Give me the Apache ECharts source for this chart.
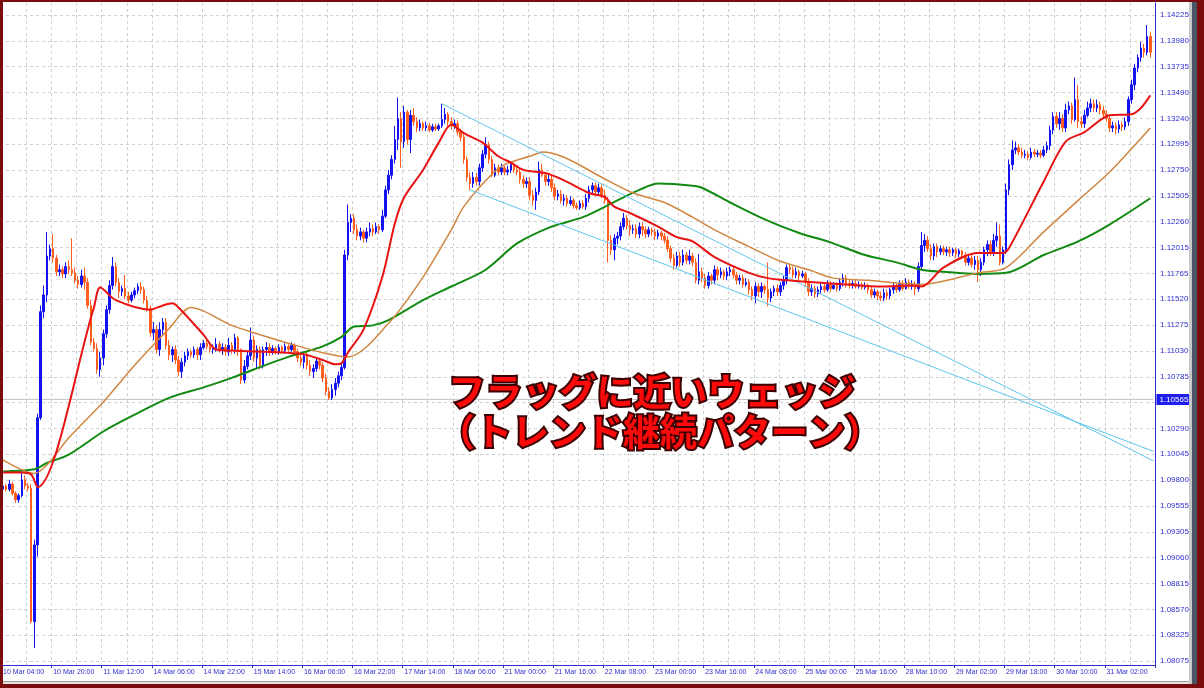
<!DOCTYPE html>
<html><head><meta charset="utf-8">
<script src="https://cdn.jsdelivr.net/npm/echarts@6/dist/echarts.min.js"></script>
<style>html,body{margin:0;padding:0;background:#fff}#c{width:1204px;height:688px}</style>
</head><body><div id="c"></div>
<script>
const xTickLabels = ['10 Mar 04:00','10 Mar 20:00','11 Mar 12:00','14 Mar 06:00','14 Mar 22:00','15 Mar 14:00','16 Mar 06:00','16 Mar 22:00','17 Mar 14:00','18 Mar 06:00','21 Mar 00:00','21 Mar 16:00','22 Mar 08:00','23 Mar 00:00','23 Mar 16:00','24 Mar 08:00','25 Mar 00:00','25 Mar 16:00','28 Mar 10:00','29 Mar 02:00','29 Mar 18:00','30 Mar 10:00','31 Mar 02:00'];
const yTickLabels = ['1.08075','1.08325','1.08570','1.08815','1.09060','1.09305','1.09555','1.09800','1.10045','1.10290','1.10540','1.10785','1.11030','1.11275','1.11520','1.11765','1.12015','1.12260','1.12505','1.12750','1.12995','1.13240','1.13490','1.13735','1.13980','1.14225'];
const BAR_SLOTS = 368;
const hLinePrice = 1.10565;
const hLineText = '1.10565';

const open = [
1.0971,1.0974,1.0971,1.0976,1.0967,1.0961,1.0965,1.0980,1.0974,1.0972,
1.0845,1.0918,1.1039,1.1140,1.1156,1.1193,1.1200,1.1191,1.1178,1.1180,
1.1176,1.1183,1.1180,1.1177,1.1170,1.1166,1.1174,1.1168,1.1146,1.1111,
1.1105,1.1085,1.1096,1.1119,1.1142,1.1165,1.1183,1.1168,1.1159,1.1162,
1.1155,1.1151,1.1156,1.1160,1.1164,1.1161,1.1151,1.1143,1.1120,1.1123,
1.1104,1.1123,1.1130,1.1108,1.1099,1.1104,1.1094,1.1083,1.1092,1.1098,
1.1102,1.1099,1.1104,1.1099,1.1106,1.1110,1.1107,1.1104,1.1105,1.1109,
1.1104,1.1106,1.1102,1.1108,1.1104,1.1115,1.1104,1.1075,1.1088,1.1098,
1.1113,1.1096,1.1104,1.1089,1.1104,1.1106,1.1102,1.1105,1.1102,1.1106,
1.1103,1.1107,1.1104,1.1108,1.1102,1.1096,1.1092,1.1098,1.1089,1.1083,
1.1086,1.1093,1.1089,1.1077,1.1064,1.1058,1.1066,1.1072,1.1079,1.1087,
1.1194,1.1225,1.1229,1.1218,1.1212,1.1216,1.1210,1.1216,1.1219,1.1216,
1.1221,1.1218,1.1231,1.1256,1.1270,1.1285,1.1304,1.1324,1.1302,1.1330,
1.1304,1.1327,1.1321,1.1315,1.1319,1.1315,1.1317,1.1313,1.1316,1.1314,
1.1317,1.1323,1.1328,1.1321,1.1317,1.1319,1.1311,1.1306,1.1285,1.1268,
1.1262,1.1268,1.1264,1.1277,1.1290,1.1299,1.1285,1.1270,1.1277,1.1273,
1.1277,1.1273,1.1275,1.1280,1.1275,1.1273,1.1266,1.1262,1.1264,1.1251,
1.1246,1.1254,1.1275,1.1270,1.1264,1.1266,1.1258,1.1250,1.1252,1.1246,
1.1248,1.1243,1.1246,1.1241,1.1239,1.1243,1.1240,1.1248,1.1256,1.1260,
1.1254,1.1258,1.1251,1.1246,1.1208,1.1199,1.1210,1.1212,1.1221,1.1229,
1.1222,1.1218,1.1219,1.1214,1.1221,1.1218,1.1214,1.1218,1.1216,1.1212,
1.1215,1.1212,1.1208,1.1200,1.1191,1.1184,1.1193,1.1187,1.1194,1.1189,
1.1193,1.1187,1.1170,1.1178,1.1172,1.1165,1.1174,1.1170,1.1180,1.1175,
1.1178,1.1174,1.1178,1.1180,1.1175,1.1170,1.1172,1.1166,1.1168,1.1161,
1.1155,1.1164,1.1159,1.1164,1.1161,1.1153,1.1159,1.1162,1.1159,1.1165,
1.1170,1.1182,1.1180,1.1175,1.1178,1.1174,1.1176,1.1168,1.1159,1.1162,
1.1157,1.1161,1.1164,1.1161,1.1166,1.1162,1.1165,1.1162,1.1168,1.1172,
1.1167,1.1165,1.1167,1.1164,1.1166,1.1163,1.1165,1.1161,1.1156,1.1159,
1.1155,1.1153,1.1158,1.1155,1.1161,1.1164,1.1161,1.1166,1.1162,1.1168,
1.1164,1.1166,1.1162,1.1183,1.1203,1.1208,1.1200,1.1193,1.1202,1.1197,
1.1200,1.1197,1.1199,1.1196,1.1199,1.1195,1.1198,1.1194,1.1187,1.1191,
1.1185,1.1189,1.1180,1.1187,1.1199,1.1204,1.1197,1.1208,1.1212,1.1187,
1.1199,1.1256,1.1280,1.1294,1.1296,1.1292,1.1289,1.1290,1.1287,1.1292,
1.1290,1.1291,1.1289,1.1294,1.1298,1.1313,1.1326,1.1319,1.1324,1.1315,
1.1332,1.1336,1.1323,1.1342,1.1321,1.1319,1.1327,1.1334,1.1338,1.1334,
1.1337,1.1332,1.1328,1.1324,1.1315,1.1317,1.1314,1.1318,1.1316,1.1321,
1.1342,1.1356,1.1372,1.1382,1.1391,1.1387,1.1402];
const close = [
1.0974,1.0971,1.0976,1.0967,1.0961,1.0965,1.0980,1.0974,1.0972,1.0845,
1.0918,1.1039,1.1140,1.1156,1.1193,1.1200,1.1191,1.1178,1.1180,1.1176,
1.1183,1.1180,1.1177,1.1170,1.1166,1.1174,1.1168,1.1146,1.1111,1.1105,
1.1085,1.1096,1.1119,1.1142,1.1165,1.1183,1.1168,1.1159,1.1162,1.1155,
1.1151,1.1156,1.1160,1.1164,1.1161,1.1151,1.1143,1.1120,1.1123,1.1104,
1.1123,1.1130,1.1108,1.1099,1.1104,1.1094,1.1083,1.1092,1.1098,1.1102,
1.1099,1.1104,1.1099,1.1106,1.1110,1.1107,1.1104,1.1105,1.1109,1.1104,
1.1106,1.1102,1.1108,1.1104,1.1115,1.1104,1.1075,1.1088,1.1098,1.1113,
1.1096,1.1104,1.1089,1.1104,1.1106,1.1102,1.1105,1.1102,1.1106,1.1103,
1.1107,1.1104,1.1108,1.1102,1.1096,1.1092,1.1098,1.1089,1.1083,1.1086,
1.1093,1.1089,1.1077,1.1064,1.1058,1.1066,1.1072,1.1079,1.1087,1.1194,
1.1225,1.1229,1.1218,1.1212,1.1216,1.1210,1.1216,1.1219,1.1216,1.1221,
1.1218,1.1231,1.1256,1.1270,1.1285,1.1304,1.1324,1.1302,1.1330,1.1304,
1.1327,1.1321,1.1315,1.1319,1.1315,1.1317,1.1313,1.1316,1.1314,1.1317,
1.1323,1.1328,1.1321,1.1317,1.1319,1.1311,1.1306,1.1285,1.1268,1.1262,
1.1268,1.1264,1.1277,1.1290,1.1299,1.1285,1.1270,1.1277,1.1273,1.1277,
1.1273,1.1275,1.1280,1.1275,1.1273,1.1266,1.1262,1.1264,1.1251,1.1246,
1.1254,1.1275,1.1270,1.1264,1.1266,1.1258,1.1250,1.1252,1.1246,1.1248,
1.1243,1.1246,1.1241,1.1239,1.1243,1.1240,1.1248,1.1256,1.1260,1.1254,
1.1258,1.1251,1.1246,1.1208,1.1199,1.1210,1.1212,1.1221,1.1229,1.1222,
1.1218,1.1219,1.1214,1.1221,1.1218,1.1214,1.1218,1.1216,1.1212,1.1215,
1.1212,1.1208,1.1200,1.1191,1.1184,1.1193,1.1187,1.1194,1.1189,1.1193,
1.1187,1.1170,1.1178,1.1172,1.1165,1.1174,1.1170,1.1180,1.1175,1.1178,
1.1174,1.1178,1.1180,1.1175,1.1170,1.1172,1.1166,1.1168,1.1161,1.1155,
1.1164,1.1159,1.1164,1.1161,1.1153,1.1159,1.1162,1.1159,1.1165,1.1170,
1.1182,1.1180,1.1175,1.1178,1.1174,1.1176,1.1168,1.1159,1.1162,1.1157,
1.1161,1.1164,1.1161,1.1166,1.1162,1.1165,1.1162,1.1168,1.1172,1.1167,
1.1165,1.1167,1.1164,1.1166,1.1163,1.1165,1.1161,1.1156,1.1159,1.1155,
1.1153,1.1158,1.1155,1.1161,1.1164,1.1161,1.1166,1.1162,1.1168,1.1164,
1.1166,1.1162,1.1183,1.1203,1.1208,1.1200,1.1193,1.1202,1.1197,1.1200,
1.1197,1.1199,1.1196,1.1199,1.1195,1.1198,1.1194,1.1187,1.1191,1.1185,
1.1189,1.1180,1.1187,1.1199,1.1204,1.1197,1.1208,1.1212,1.1187,1.1199,
1.1256,1.1280,1.1294,1.1296,1.1292,1.1289,1.1290,1.1287,1.1292,1.1290,
1.1291,1.1289,1.1294,1.1298,1.1313,1.1326,1.1319,1.1324,1.1315,1.1332,
1.1336,1.1323,1.1342,1.1321,1.1319,1.1327,1.1334,1.1338,1.1334,1.1337,
1.1332,1.1328,1.1324,1.1315,1.1317,1.1314,1.1318,1.1316,1.1321,1.1342,
1.1356,1.1372,1.1382,1.1391,1.1387,1.1402,1.1387];
const high = [
1.0977,1.0976,1.0980,1.0978,1.0969,1.0967,1.0988,1.0984,1.0977,1.0976,
1.0923,1.1043,1.1146,1.1165,1.1216,1.1204,1.1214,1.1194,1.1185,1.1183,
1.1187,1.1189,1.1210,1.1182,1.1174,1.1180,1.1182,1.1172,1.1151,1.1115,
1.1110,1.1102,1.1123,1.1146,1.1170,1.1192,1.1187,1.1172,1.1165,1.1175,
1.1159,1.1159,1.1163,1.1167,1.1168,1.1164,1.1155,1.1146,1.1130,1.1127,
1.1130,1.1134,1.1134,1.1113,1.1107,1.1108,1.1098,1.1096,1.1102,1.1105,
1.1104,1.1107,1.1106,1.1110,1.1113,1.1113,1.1111,1.1109,1.1115,1.1112,
1.1110,1.1109,1.1115,1.1111,1.1119,1.1117,1.1105,1.1094,1.1102,1.1125,
1.1117,1.1108,1.1107,1.1107,1.1111,1.1110,1.1108,1.1107,1.1109,1.1108,
1.1110,1.1109,1.1111,1.1110,1.1105,1.1100,1.1102,1.1102,1.1094,1.1090,
1.1096,1.1096,1.1092,1.1081,1.1068,1.1071,1.1077,1.1083,1.1092,1.1199,
1.1242,1.1233,1.1233,1.1223,1.1220,1.1218,1.1220,1.1225,1.1223,1.1225,
1.1223,1.1237,1.1260,1.1275,1.1289,1.1317,1.1344,1.1330,1.1336,1.1332,
1.1332,1.1334,1.1325,1.1323,1.1321,1.1321,1.1320,1.1319,1.1319,1.1319,
1.1338,1.1334,1.1330,1.1325,1.1323,1.1322,1.1314,1.1309,1.1288,1.1273,
1.1273,1.1272,1.1281,1.1294,1.1306,1.1302,1.1288,1.1281,1.1280,1.1281,
1.1279,1.1279,1.1283,1.1282,1.1279,1.1277,1.1270,1.1268,1.1268,1.1256,
1.1258,1.1283,1.1281,1.1273,1.1270,1.1270,1.1262,1.1256,1.1256,1.1252,
1.1251,1.1250,1.1248,1.1244,1.1246,1.1246,1.1252,1.1260,1.1263,1.1263,
1.1262,1.1261,1.1256,1.1249,1.1213,1.1214,1.1216,1.1225,1.1234,1.1232,
1.1227,1.1223,1.1223,1.1225,1.1225,1.1221,1.1221,1.1220,1.1219,1.1218,
1.1217,1.1215,1.1212,1.1203,1.1195,1.1197,1.1197,1.1199,1.1197,1.1199,
1.1196,1.1191,1.1195,1.1182,1.1176,1.1178,1.1176,1.1184,1.1183,1.1182,
1.1180,1.1182,1.1183,1.1183,1.1178,1.1175,1.1175,1.1172,1.1171,1.1164,
1.1168,1.1167,1.1168,1.1166,1.1187,1.1162,1.1165,1.1166,1.1168,1.1174,
1.1185,1.1185,1.1183,1.1182,1.1180,1.1179,1.1178,1.1172,1.1166,1.1165,
1.1164,1.1167,1.1167,1.1170,1.1169,1.1168,1.1168,1.1172,1.1176,1.1175,
1.1170,1.1170,1.1170,1.1169,1.1168,1.1168,1.1167,1.1164,1.1162,1.1161,
1.1159,1.1162,1.1161,1.1163,1.1168,1.1167,1.1170,1.1170,1.1172,1.1171,
1.1170,1.1169,1.1187,1.1216,1.1214,1.1212,1.1204,1.1205,1.1205,1.1203,
1.1203,1.1202,1.1202,1.1201,1.1201,1.1200,1.1199,1.1197,1.1195,1.1194,
1.1193,1.1193,1.1191,1.1202,1.1208,1.1208,1.1214,1.1225,1.1223,1.1202,
1.1262,1.1285,1.1303,1.1302,1.1300,1.1296,1.1294,1.1293,1.1296,1.1295,
1.1294,1.1294,1.1298,1.1302,1.1317,1.1330,1.1330,1.1330,1.1328,1.1338,
1.1340,1.1339,1.1363,1.1356,1.1326,1.1332,1.1340,1.1343,1.1342,1.1342,
1.1340,1.1336,1.1332,1.1328,1.1321,1.1320,1.1322,1.1321,1.1325,1.1345,
1.1361,1.1376,1.1385,1.1397,1.1395,1.1413,1.1406];
const low = [
1.0968,1.0969,1.0969,1.0965,1.0958,1.0958,1.0963,1.0971,1.0969,1.0843,
1.0820,1.0907,1.1037,1.1134,1.1149,1.1189,1.1187,1.1174,1.1174,1.1172,
1.1172,1.1176,1.1174,1.1167,1.1162,1.1163,1.1161,1.1143,1.1108,1.1102,
1.1081,1.1078,1.1089,1.1115,1.1138,1.1161,1.1164,1.1153,1.1155,1.1152,
1.1148,1.1149,1.1153,1.1157,1.1157,1.1148,1.1140,1.1116,1.1113,1.1100,
1.1098,1.1118,1.1104,1.1094,1.1092,1.1090,1.1079,1.1077,1.1088,1.1094,
1.1096,1.1096,1.1094,1.1094,1.1104,1.1104,1.1101,1.1100,1.1102,1.1101,
1.1099,1.1098,1.1098,1.1100,1.1100,1.1098,1.1071,1.1072,1.1085,1.1094,
1.1092,1.1086,1.1085,1.1086,1.1098,1.1098,1.1099,1.1099,1.1099,1.1100,
1.1100,1.1102,1.1102,1.1098,1.1092,1.1088,1.1086,1.1085,1.1079,1.1077,
1.1083,1.1085,1.1073,1.1060,1.1056,1.1056,1.1060,1.1068,1.1075,1.1085,
1.1189,1.1216,1.1214,1.1208,1.1208,1.1206,1.1206,1.1212,1.1212,1.1214,
1.1214,1.1216,1.1229,1.1252,1.1266,1.1281,1.1294,1.1277,1.1296,1.1299,
1.1291,1.1317,1.1311,1.1312,1.1312,1.1312,1.1311,1.1311,1.1312,1.1312,
1.1315,1.1319,1.1317,1.1313,1.1314,1.1308,1.1302,1.1281,1.1264,1.1256,
1.1258,1.1260,1.1260,1.1273,1.1286,1.1281,1.1268,1.1268,1.1270,1.1270,
1.1270,1.1270,1.1272,1.1272,1.1270,1.1262,1.1258,1.1258,1.1246,1.1241,
1.1237,1.1251,1.1268,1.1260,1.1260,1.1254,1.1246,1.1246,1.1243,1.1241,
1.1240,1.1241,1.1238,1.1237,1.1237,1.1238,1.1237,1.1244,1.1251,1.1250,
1.1251,1.1248,1.1243,1.1187,1.1194,1.1189,1.1204,1.1208,1.1218,1.1218,
1.1212,1.1214,1.1210,1.1210,1.1212,1.1210,1.1211,1.1212,1.1208,1.1209,
1.1208,1.1205,1.1197,1.1187,1.1180,1.1182,1.1183,1.1184,1.1185,1.1185,
1.1183,1.1167,1.1166,1.1168,1.1162,1.1162,1.1166,1.1166,1.1170,1.1172,
1.1170,1.1170,1.1174,1.1172,1.1166,1.1166,1.1163,1.1164,1.1156,1.1151,
1.1148,1.1154,1.1153,1.1157,1.1145,1.1149,1.1155,1.1155,1.1155,1.1161,
1.1166,1.1176,1.1172,1.1172,1.1170,1.1172,1.1164,1.1155,1.1155,1.1153,
1.1154,1.1157,1.1158,1.1159,1.1159,1.1161,1.1159,1.1160,1.1164,1.1163,
1.1162,1.1162,1.1162,1.1162,1.1161,1.1161,1.1157,1.1153,1.1153,1.1151,
1.1150,1.1150,1.1151,1.1152,1.1157,1.1158,1.1159,1.1160,1.1161,1.1162,
1.1161,1.1156,1.1159,1.1180,1.1197,1.1197,1.1189,1.1189,1.1192,1.1194,
1.1194,1.1193,1.1192,1.1193,1.1191,1.1192,1.1190,1.1184,1.1184,1.1182,
1.1180,1.1168,1.1174,1.1184,1.1193,1.1193,1.1193,1.1202,1.1184,1.1185,
1.1195,1.1251,1.1275,1.1290,1.1289,1.1286,1.1286,1.1284,1.1285,1.1287,
1.1287,1.1286,1.1287,1.1291,1.1294,1.1309,1.1315,1.1313,1.1311,1.1311,
1.1328,1.1319,1.1321,1.1315,1.1315,1.1315,1.1325,1.1330,1.1330,1.1330,
1.1328,1.1325,1.1321,1.1311,1.1311,1.1309,1.1310,1.1312,1.1313,1.1317,
1.1338,1.1351,1.1368,1.1378,1.1382,1.1384,1.1382];

// moving averages read at sample bars: [barIndex, price]
const maFast = [[0,1.0987],[6,1.0987],[9,1.0985],[11,1.0973],[29,1.1144],[31,1.1163],[36,1.1151],[47,1.1142],[51,1.1146],[54,1.1148],[56,1.1144],[64,1.1118],[68,1.1104],[73,1.1103],[95,1.1100],[102,1.1094],[106,1.1090],[108,1.1091],[110,1.1101],[115,1.1123],[121,1.1173],[125,1.1224],[128,1.1249],[134,1.1275],[139,1.1301],[143,1.1318],[147,1.1310],[153,1.1301],[158,1.1288],[162,1.1282],[166,1.1275],[173,1.1272],[179,1.1265],[187,1.1253],[192,1.1249],[195,1.1240],[200,1.1234],[209,1.1221],[215,1.1211],[220,1.1207],[227,1.1192],[238,1.1177],[244,1.1172],[250,1.1170],[259,1.1168],[269,1.1166],[280,1.1164],[290,1.1165],[293,1.1164],[300,1.1182],[311,1.1196],[319,1.1196],[321,1.1201],[332,1.1264],[339,1.1302],[345,1.1311],[353,1.1327],[360,1.1328],[363,1.1334],[366,1.1346]];
const maMid = [[0,1.0999],[10,1.0986],[14,1.0994],[21,1.1020],[32,1.1054],[42,1.1089],[53,1.1124],[60,1.1144],[73,1.1127],[80,1.1120],[91,1.1110],[102,1.1101],[110,1.1097],[123,1.1129],[134,1.1173],[143,1.1218],[147,1.1240],[155,1.1268],[160,1.1280],[169,1.1289],[172,1.1292],[179,1.1287],[191,1.1268],[201,1.1253],[211,1.1244],[220,1.1230],[227,1.1218],[238,1.1202],[248,1.1188],[257,1.1180],[265,1.1172],[276,1.1170],[286,1.1167],[293,1.1166],[311,1.1177],[320,1.1182],[332,1.1216],[343,1.1246],[353,1.1273],[366,1.1315]];
const maSlow = [[0,1.0988],[10,1.0990],[14,1.0996],[21,1.1004],[32,1.1026],[42,1.1042],[53,1.1058],[64,1.1068],[73,1.1077],[80,1.1085],[91,1.1097],[102,1.1107],[108,1.1116],[112,1.1126],[118,1.1127],[123,1.1132],[134,1.1151],[143,1.1164],[154,1.1180],[164,1.1205],[175,1.1221],[185,1.1230],[196,1.1246],[203,1.1256],[209,1.1262],[220,1.1260],[223,1.1258],[232,1.1244],[243,1.1228],[254,1.1215],[264,1.1206],[275,1.1194],[285,1.1187],[293,1.1180],[300,1.1178],[311,1.1176],[320,1.1177],[332,1.1194],[343,1.1207],[353,1.1223],[366,1.1248]];
const trendUpper = [[140,1.1338],[367,1.0998]];
const trendLower = [[149,1.1256],[367,1.1007]];
const hLine = [[0, hLinePrice], [367, hLinePrice]];

const categories = Array.from({length: BAR_SLOTS}, (_, i) => i % 16 === 0 && xTickLabels[i / 16] ? xTickLabels[i / 16] : 'b' + i);
const candles = open.map((o, i) => [o, close[i], low[i], high[i]]);

const AXIS_BLUE = '#2e2ed2';
const GRID_GRAY = '#cfcfcf';
const BULL = '#1212f2', BEAR = '#ff5e1e';
const FONT = '"Liberation Sans", Tahoma, Arial, sans-serif';

const chart = echarts.init(document.getElementById('c'), null, {renderer: 'canvas'});
chart.setOption({
  animation: false,
  backgroundColor: '#ffffff',
  grid: [
    {left: -2, right: 49, top: 3, bottom: 23},
    {left: -2, right: 49, top: 15, bottom: 27}
  ],
  xAxis: [
    {type: 'category', gridIndex: 0, data: categories, boundaryGap: true,
     axisLine: {show: true, lineStyle: {color: AXIS_BLUE, width: 1}},
     axisTick: {show: true, interval: (i) => i % 16 === 0, length: 3, lineStyle: {color: AXIS_BLUE}},
     axisLabel: {show: true, interval: (i) => i % 16 === 0, align: 'left', margin: 4,
       color: AXIS_BLUE, fontSize: 7, fontFamily: FONT,
       formatter: (v, i) => (i % 16 === 0 ? v : '')},
     splitLine: {show: true, interval: (i) => i % 8 === 0, lineStyle: {color: GRID_GRAY, type: [3, 3], width: 1}}},
    {type: 'value', gridIndex: 1, show: false, min: 0, max: 1}
  ],
  yAxis: [
    {type: 'value', gridIndex: 0, position: 'right', min: 1.08037, max: 1.14339, scale: true,
     axisLine: {show: true, lineStyle: {color: AXIS_BLUE, width: 1}},
     axisTick: {show: false}, axisLabel: {show: false}, splitLine: {show: false}},
    {type: 'value', gridIndex: 1, position: 'right', min: 0, max: 25, interval: 1,
     axisLine: {show: false},
     axisTick: {show: true, length: 3, lineStyle: {color: AXIS_BLUE}},
     axisLabel: {show: true, margin: 5, color: AXIS_BLUE, fontSize: 8, fontFamily: FONT,
       formatter: (v) => yTickLabels[Math.round(v)] || ''},
     splitLine: {show: true, lineStyle: {color: GRID_GRAY, type: [3, 3], width: 1}}}
  ],
  series: [
    {type: 'line', data: hLine, showSymbol: false, symbol: 'none', z: 2,
     lineStyle: {color: '#c4c4c4', width: 1},
     endLabel: {show: true, formatter: hLineText, distance: 3, color: '#ffffff',
       backgroundColor: '#1d1df0', padding: [2, 3, 1, 3], fontSize: 8, fontFamily: FONT}},
    {type: 'candlestick', xAxisIndex: 0, yAxisIndex: 0, data: candles, barWidth: 2,
     itemStyle: {color: BULL, color0: BEAR, borderColor: BULL, borderColor0: BEAR, borderWidth: 1},
     z: 3},
    {type: 'line', data: maSlow, showSymbol: false, symbol: 'none', smooth: 0.3, lineStyle: {color: '#118a11', width: 2}, z: 4},
    {type: 'line', data: maMid, showSymbol: false, symbol: 'none', smooth: 0.3, lineStyle: {color: '#d08640', width: 1.5}, z: 4},
    {type: 'line', data: maFast, showSymbol: false, symbol: 'none', smooth: 0.3, lineStyle: {color: '#e81212', width: 2}, z: 5},
    {type: 'line', data: trendUpper, showSymbol: false, symbol: 'none', lineStyle: {color: '#5cc6ee', width: 1}, z: 4},
    {type: 'line', data: trendLower, showSymbol: false, symbol: 'none', lineStyle: {color: '#5cc6ee', width: 1}, z: 4}
  ],
  graphic: [
    {type: 'text', x: 652, y: 392, z: 100,
     style: {text: 'フラッグに近いウェッジ', fill: '#ff0a0a', stroke: '#3a0000', lineWidth: 4, strokeFirst: true,
       font: 'bold 37px "Noto Sans CJK JP"', align: 'center', verticalAlign: 'middle', textAlign: 'center', textVerticalAlign: 'middle',
       shadowColor: 'rgba(40,0,0,0.7)', shadowOffsetX: 2, shadowOffsetY: 2, shadowBlur: 0}},
    {type: 'text', x: 660, y: 432, z: 100,
     style: {text: '（トレンド継続パターン）', fill: '#ff0a0a', stroke: '#3a0000', lineWidth: 4, strokeFirst: true,
       font: 'bold 37px "Noto Sans CJK JP"', align: 'center', verticalAlign: 'middle', textAlign: 'center', textVerticalAlign: 'middle',
       shadowColor: 'rgba(40,0,0,0.7)', shadowOffsetX: 2, shadowOffsetY: 2, shadowBlur: 0}},
    {type: 'rect', z: 90, shape: {x: 0, y: 681, width: 1204, height: 1}, style: {fill: '#9a9a9a'}},
    {type: 'rect', z: 90, shape: {x: 0, y: 682, width: 1204, height: 2}, style: {fill: '#e4e4e4'}},
    {type: 'rect', z: 90, shape: {x: 1189, y: 0, width: 3, height: 688}, style: {fill: '#c8c8c8'}},
    {type: 'rect', z: 90, shape: {x: 1192, y: 0, width: 5, height: 688}, style: {fill: '#4a5566'}},
    {type: 'rect', z: 95, shape: {x: 0, y: 0, width: 3, height: 688}, style: {fill: '#7a0c0c'}},
    {type: 'rect', z: 95, shape: {x: 0, y: 0, width: 1204, height: 2}, style: {fill: '#7a0c0c'}},
    {type: 'rect', z: 95, shape: {x: 1197, y: 0, width: 7, height: 688}, style: {fill: '#7a0c0c'}},
    {type: 'rect', z: 95, shape: {x: 0, y: 684, width: 1204, height: 4}, style: {fill: '#7a0c0c'}}
  ]
});
</script></body></html>
